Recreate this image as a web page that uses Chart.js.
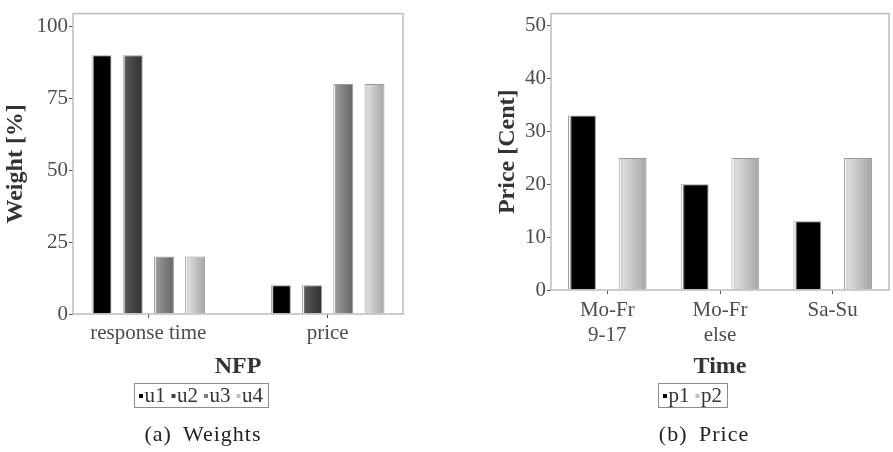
<!DOCTYPE html>
<html>
<head>
<meta charset="utf-8">
<script src="https://cdn.jsdelivr.net/npm/chart.js@4.4.1/dist/chart.umd.min.js"></script>
<style>
  body { margin: 0; background: #fff; }
  #wrap { position: relative; width: 893px; height: 452px; background: #fff; }
  #wrap canvas { position: absolute; top: 0; }
  .cap {
    position: absolute; top: 420px; width: 220px; text-align: center;
    font-family: "Liberation Serif", serif; font-size: 22px; color: #222;
    letter-spacing: 1px; word-spacing: 5px; line-height: 28px;
  }
</style>
</head>
<body>
<div id="wrap">
  <canvas id="weights" width="410" height="452" style="left:0"></canvas>
  <canvas id="prices" width="401" height="452" style="left:492px"></canvas>
  <div class="cap" style="left:93px">(a) Weights</div>
  <div class="cap" style="left:594px">(b) Price</div>
</div>
<script>
// (a) weights per NFP
var nfpCategories = ["response time", "price"];
var u1 = [90, 10];
var u2 = [90, 10];
var u3 = [20, 80];
var u4 = [20, 80];
var weightTicks = [0, 25, 50, 75, 100];

// (b) price per time slot
var timeCategories = [["Mo-Fr", "9-17"], ["Mo-Fr", "else"], "Sa-Su"];
var p1 = [33, 20, 13];
var p2 = [25, 25, 25];
var priceTicks = [0, 10, 20, 30, 40, 50];

Chart.defaults.font.family = '"Liberation Serif", "Times New Roman", serif';
Chart.defaults.color = "#4d4d4d";

// horizontal shading inside each bar, built from the bar's own element
function shadeFill(stops, solid) {
    return function (ctx) {
        var el = ctx.element;
        if (!el || !isFinite(el.x) || !el.width) return solid;
        var left = el.x - el.width / 2;
        var g = ctx.chart.ctx.createLinearGradient(left, 0, left + el.width, 0);
        stops.forEach(function (s) { g.addColorStop(s[0], s[1]); });
        return g;
    };
}

var shades = {
    black: [[0, "#f4f4f4"], [0.07, "#f4f4f4"], [0.1, "#777"], [0.15, "#000"], [1, "#000"]],
    dark:  [[0, "#f4f4f4"], [0.07, "#f4f4f4"], [0.1, "#888"], [0.15, "#555"], [1, "#303030"]],
    mid:   [[0, "#f4f4f4"], [0.07, "#f4f4f4"], [0.1, "#aaa"], [0.15, "#959595"], [1, "#656565"]],
    light: [[0, "#f4f4f4"], [0.07, "#f4f4f4"], [0.1, "#ccc"], [0.15, "#dcdcdc"], [1, "#a5a5a5"]]
};

// grey frame round the panel
var panelBox = {
    id: "panelBox",
    afterDatasetsDraw: function (chart) {
        var a = chart.chartArea, ctx = chart.ctx;
        ctx.save();
        ctx.strokeStyle = "#bdbdbd";
        ctx.lineWidth = 1.5;
        ctx.strokeRect(a.left, a.top, a.right - a.left, a.bottom - a.top);
        ctx.restore();
    }
};

// small boxed legend under the axis title
var boxLegend = {
    id: "boxLegend",
    afterDraw: function (chart, args, opts) {
        var ctx = chart.ctx;
        var sq = 4, gapText = 1.5, gapItem = 6, pad = 5;
        ctx.save();
        ctx.font = '21px "Liberation Serif", serif';
        var items = chart.data.datasets.map(function (ds) {
            return { text: ds.label, color: ds.legendColor, w: ctx.measureText(ds.label).width };
        });
        var total = pad * 2 + gapItem * (items.length - 1);
        items.forEach(function (it) { total += sq + gapText + it.w; });
        var x = Math.round(opts.centerX - total / 2);
        var top = opts.top, h = opts.height;
        ctx.strokeStyle = "#8c8c8c";
        ctx.lineWidth = 1;
        ctx.strokeRect(x + 0.5, top + 0.5, Math.round(total), h);
        var mid = top + h / 2 + 1;
        x += pad;
        ctx.textBaseline = "middle";
        items.forEach(function (it) {
            ctx.fillStyle = it.color;
            ctx.fillRect(x, mid - sq / 2, sq, sq);
            x += sq + gapText;
            ctx.fillStyle = "#333";
            ctx.fillText(it.text, x, mid);
            x += it.w + gapItem;
        });
        ctx.restore();
    }
};

function tickGrid() {
    return { drawOnChartArea: false, drawTicks: true, tickLength: 4, tickColor: "#555", lineWidth: 1, offset: false };
}

// Chart (a)
var weightSeries = [
    { label: "u1", data: u1, shade: shades.black, solid: "#000", legend: "#000" },
    { label: "u2", data: u2, shade: shades.dark, solid: "#404040", legend: "#404040" },
    { label: "u3", data: u3, shade: shades.mid, solid: "#7f7f7f", legend: "#7f7f7f" },
    { label: "u4", data: u4, shade: shades.light, solid: "#bfbfbf", legend: "#bfbfbf" }
];

var chartA = new Chart(document.getElementById("weights").getContext("2d"), {
    type: "bar",
    data: {
        datasets: weightSeries.map(function (s) {
            return {
                label: s.label,
                data: s.data.map(function (v, i) { return { x: i + 1, y: v }; }),
                backgroundColor: shadeFill(s.shade, s.solid),
                borderColor: "#9a9a9a",
                borderWidth: 1,
                categoryPercentage: 0.696,
                barPercentage: 0.64,
                legendColor: s.legend
            };
        })
    },
    options: {
        responsive: false,
        animation: false,
        layout: { padding: { top: 7, right: 7, bottom: 34, left: 0 } },
        plugins: {
            legend: { display: false },
            tooltip: { enabled: false },
            boxLegend: { centerX: 201, top: 383, height: 24 }
        },
        scales: {
            x: {
                type: "linear",
                offset: false,
                min: 0.58,
                max: 2.42,
                afterBuildTicks: function (scale) {
                    scale.ticks = nfpCategories.map(function (c, i) { return { value: i + 1 }; });
                },
                afterFit: function (scale) { scale.height = 104; },
                ticks: {
                    padding: 3,
                    font: { size: 21 },
                    color: "#4d4d4d",
                    maxRotation: 0,
                    callback: function (v) { return nfpCategories[v - 1]; }
                },
                grid: tickGrid(),
                border: { display: false },
                title: {
                    display: true,
                    text: "NFP",
                    color: "#333",
                    font: { size: 24, weight: "bold" },
                    padding: { top: 0, bottom: 37 }
                }
            },
            y: {
                min: 0,
                max: 104.5,
                afterBuildTicks: function (scale) {
                    scale.ticks = weightTicks.map(function (v) { return { value: v }; });
                },
                afterFit: function (scale) { scale.width = 73; },
                ticks: { padding: 1, font: { size: 21 }, color: "#4d4d4d" },
                grid: tickGrid(),
                border: { display: false },
                title: {
                    display: true,
                    text: "Weight [%]",
                    color: "#333",
                    font: { size: 24, weight: "bold" },
                    padding: { top: 1, bottom: 0 }
                }
            }
        }
    },
    plugins: [panelBox, boxLegend]
});
chartA.update();

// Chart (b)
var priceSeries = [
    { label: "p1", data: p1, shade: shades.black, solid: "#000", legend: "#000" },
    { label: "p2", data: p2, shade: shades.light, solid: "#bfbfbf", legend: "#bfbfbf" }
];

var chartB = new Chart(document.getElementById("prices").getContext("2d"), {
    type: "bar",
    data: {
        labels: timeCategories,
        datasets: priceSeries.map(function (s) {
            return {
                label: s.label,
                data: s.data,
                backgroundColor: shadeFill(s.shade, s.solid),
                borderColor: "#9a9a9a",
                borderWidth: 1,
                categoryPercentage: 0.9,
                barPercentage: 0.55,
                legendColor: s.legend
            };
        })
    },
    options: {
        responsive: false,
        animation: false,
        layout: { padding: { top: 7, right: 4, bottom: 34, left: 0 } },
        plugins: {
            legend: { display: false },
            tooltip: { enabled: false },
            boxLegend: { centerX: 200.5, top: 383, height: 24 }
        },
        scales: {
            x: {
                offset: true,
                afterFit: function (scale) { scale.height = 128; },
                ticks: { padding: 4, font: { size: 21 }, color: "#4d4d4d", maxRotation: 0 },
                grid: tickGrid(),
                border: { display: false },
                title: {
                    display: true,
                    text: "Time",
                    color: "#333",
                    font: { size: 24, weight: "bold" },
                    padding: { top: 0, bottom: 37 }
                }
            },
            y: {
                min: 0,
                max: 52.3,
                afterBuildTicks: function (scale) {
                    scale.ticks = priceTicks.map(function (v) { return { value: v }; });
                },
                afterFit: function (scale) { scale.width = 59; },
                ticks: { padding: 1, font: { size: 21 }, color: "#4d4d4d" },
                grid: tickGrid(),
                border: { display: false },
                title: {
                    display: true,
                    text: "Price [Cent]",
                    color: "#333",
                    font: { size: 24, weight: "bold" },
                    padding: { top: 1, bottom: 0 }
                }
            }
        }
    },
    plugins: [panelBox, boxLegend]
});
chartB.update();
</script>
</body>
</html>
